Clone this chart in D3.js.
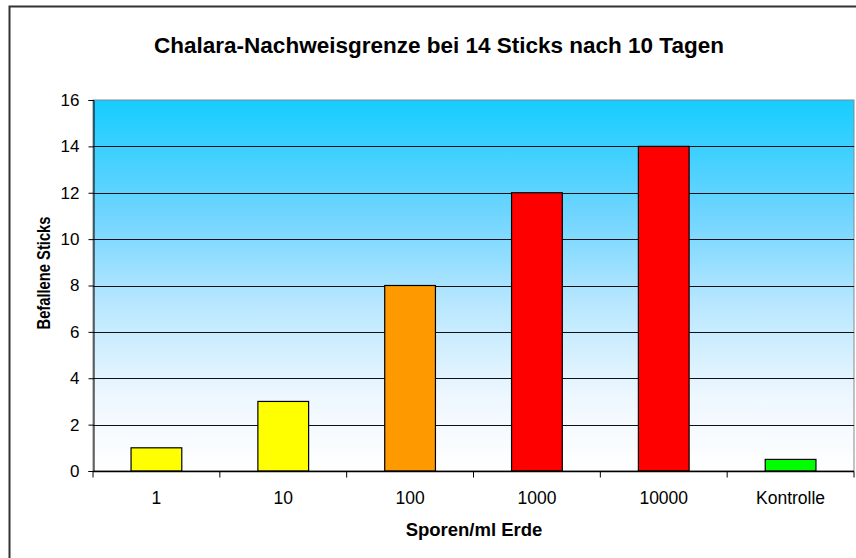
<!DOCTYPE html>
<html>
<head>
<meta charset="utf-8">
<script src="https://cdn.jsdelivr.net/npm/d3@7"></script>
<style>
  body { margin: 0; background: #fff; }
  svg { display: block; font-family: "Liberation Sans", Arial, sans-serif; }
</style>
</head>
<body>
<script>
// Daten
var categories = ["1", "10", "100", "1000", "10000", "Kontrolle"];
var values = [1, 3, 8, 12, 14, 0.5];
var barColors = ["#FFFF00", "#FFFF00", "#FF9900", "#FF0000", "#FF0000", "#00FF00"];
var yTicks = [0, 2, 4, 6, 8, 10, 12, 14, 16];

var W = 856, H = 558;
var plot = { left: 93, right: 854, top: 100, bottom: 471 };

var svg = d3.select("body").append("svg")
    .attr("width", W)
    .attr("height", H);

// Hintergrund-Verlauf
var defs = svg.append("defs");
var grad = defs.append("linearGradient")
    .attr("id", "bg")
    .attr("x1", 0).attr("y1", 0).attr("x2", 0).attr("y2", 1);
grad.append("stop").attr("offset", "0").attr("stop-color", "#16CDFF");
grad.append("stop").attr("offset", "0.3").attr("stop-color", "#6DD4FF");
grad.append("stop").attr("offset", "0.55").attr("stop-color", "#B8E7FF");
grad.append("stop").attr("offset", "0.8").attr("stop-color", "#EEF7FF");
grad.append("stop").attr("offset", "1").attr("stop-color", "#FFFFFF");

// äußerer Rahmen
svg.append("rect")
    .attr("x", 9.5).attr("y", 6.5)
    .attr("width", W + 10).attr("height", H + 10)
    .attr("fill", "none")
    .attr("stroke", "#333")
    .attr("stroke-width", 2);

var x = d3.scaleBand()
    .domain(categories)
    .range([plot.left, plot.right])
    .paddingInner(0.6)
    .paddingOuter(0.3);

var y = d3.scaleLinear()
    .domain([0, 16])
    .range([plot.bottom, plot.top]);

// Zeichenfläche
svg.append("rect")
    .attr("x", plot.left).attr("y", plot.top)
    .attr("width", plot.right - plot.left)
    .attr("height", plot.bottom - plot.top)
    .attr("fill", "url(#bg)")
    .attr("stroke", "#888")
    .attr("stroke-width", 1);

// Gitterlinien
svg.append("g")
    .selectAll("line")
    .data(yTicks.filter(function (d) { return d > 0 && d < 16; }))
    .enter()
    .append("line")
    .attr("x1", plot.left).attr("x2", plot.right)
    .attr("y1", function (d) { return Math.round(y(d)) + 0.5; })
    .attr("y2", function (d) { return Math.round(y(d)) + 0.5; })
    .attr("stroke", "#111")
    .attr("stroke-width", 1);

// Balken
svg.append("g")
    .selectAll("rect")
    .data(values)
    .enter()
    .append("rect")
    .attr("x", function (d, i) { return x(categories[i]); })
    .attr("y", function (d) { return y(d); })
    .attr("width", x.bandwidth())
    .attr("height", function (d) { return y(0) - y(d); })
    .attr("fill", function (d, i) { return barColors[i]; })
    .attr("stroke", "#000")
    .attr("stroke-width", 1.2);

// Y-Achse
var yAxis = svg.append("g")
    .attr("transform", "translate(" + (plot.left + 0.5) + ",0)")
    .call(d3.axisLeft(y).tickValues(yTicks).tickSize(5).tickPadding(9));
yAxis.select(".domain").attr("stroke", "#000");
yAxis.selectAll(".tick line").attr("stroke", "#000");
yAxis.selectAll("text")
    .attr("font-size", 17)
    .attr("font-family", "Liberation Sans, Arial, sans-serif")
    .attr("fill", "#000");

// X-Achse mit Strichen an den Kategoriegrenzen
var xAxisG = svg.append("g")
    .attr("transform", "translate(0," + (plot.bottom + 0.5) + ")");
xAxisG.append("line")
    .attr("x1", plot.left).attr("x2", plot.right)
    .attr("stroke", "#000").attr("stroke-width", 1.5);
var step = x.step();
var bounds = d3.range(categories.length + 1).map(function (i) { return plot.left + i * step; });
xAxisG.selectAll(".bt")
    .data(bounds)
    .enter()
    .append("line")
    .attr("class", "bt")
    .attr("x1", function (d) { return d; })
    .attr("x2", function (d) { return d; })
    .attr("y1", 0).attr("y2", 6)
    .attr("stroke", "#000");
xAxisG.selectAll("text")
    .data(categories)
    .enter()
    .append("text")
    .attr("x", function (d) { return x(d) + x.bandwidth() / 2; })
    .attr("y", 32)
    .attr("text-anchor", "middle")
    .attr("font-size", 17.5)
    .text(function (d) { return d; });

// Titel
svg.append("text")
    .attr("x", 439).attr("y", 53)
    .attr("text-anchor", "middle")
    .attr("font-size", 22.5)
    .attr("font-weight", "bold")
    .text("Chalara-Nachweisgrenze bei 14 Sticks nach 10 Tagen");

// Achsentitel
svg.append("text")
    .attr("x", 474).attr("y", 536)
    .attr("text-anchor", "middle")
    .attr("font-size", 18.5)
    .attr("font-weight", "bold")
    .text("Sporen/ml Erde");

svg.append("text")
    .attr("transform", "translate(50,273) rotate(-90)")
    .attr("text-anchor", "middle")
    .attr("font-size", 18)
    .attr("font-weight", "bold")
    .attr("textLength", 113)
    .attr("lengthAdjust", "spacingAndGlyphs")
    .text("Befallene Sticks");
</script>
</body>
</html>
